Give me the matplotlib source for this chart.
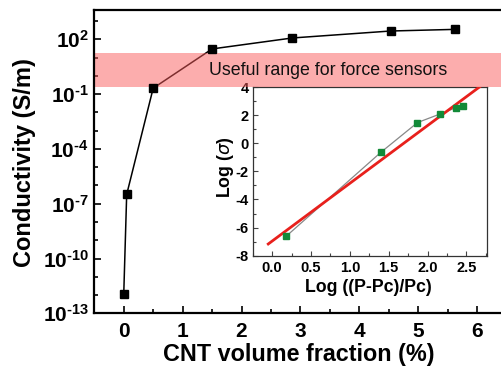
import matplotlib
matplotlib.use("Agg")
import matplotlib.pyplot as plt
import numpy as np
from matplotlib.ticker import FixedLocator, MultipleLocator, NullFormatter

plt.rcParams['font.family'] = ['Liberation Sans', 'DejaVu Sans']
plt.rcParams['mathtext.fontset'] = 'custom'
plt.rcParams['mathtext.rm'] = 'Liberation Sans:bold'
plt.rcParams['mathtext.bf'] = 'Liberation Sans:bold'

# Main data
cnt_fraction = [0.0, 0.05, 0.5, 1.5, 2.86, 4.53, 5.63]
conductivity = [1.1e-12, 3.2e-7, 0.21, 29.5, 117, 282, 347]
band_low, band_high = 0.25, 18.0
band_text = "Useful range for force sensors"
y_tick_exps = [-13, -10, -7, -4, -1, 2]
x_ticks = [0, 1, 2, 3, 4, 5, 6]

# Inset data
log_p = [0.18, 1.40, 1.87, 2.16, 2.36, 2.45]
log_sigma = [-6.62, -0.64, 1.47, 2.08, 2.52, 2.62]
fit_slope, fit_intercept = 4.11, -6.96
fit_x_range = [-0.05, 2.68]
inset_xticks = [0.0, 0.5, 1.0, 1.5, 2.0, 2.5]
inset_yticks = [-8, -6, -4, -2, 0, 2, 4]


def exp_label(e):
    s = str(abs(e))
    if e < 0:
        return r'$\mathbf{10^{\text{-}%s}}$' % s
    return r'$\mathbf{10^{%s}}$' % s


fig = plt.figure(figsize=(5.01, 3.76), dpi=100)
ax = fig.add_axes([0.1882, 0.1667, 0.823, 0.8067])
ax.set_zorder(2)
ax.patch.set_visible(False)

ax.set_yscale('log')
ax.plot(cnt_fraction, conductivity, color='black', lw=1.1, zorder=1)
ax.axhspan(band_low, band_high, color='#fa5c5c', alpha=0.5, lw=0, zorder=2)
ax.plot(cnt_fraction, conductivity, ls='none', marker='s', ms=6.2,
        color='black', zorder=3)
ax.text(1.45, 1.9, band_text, fontsize=12.8, va='center', ha='left',
        color='#111111', zorder=4)

ax.set_xlim(-0.5, 6.5)
ax.set_ylim(1e-13, 10 ** 3.6)
ax.yaxis.set_major_locator(FixedLocator([10.0 ** e for e in y_tick_exps]))
ax.set_yticklabels([exp_label(e) for e in y_tick_exps])
ax.yaxis.set_minor_locator(FixedLocator([10.0 ** e for e in range(-13, 4)]))
ax.yaxis.set_minor_formatter(NullFormatter())
ax.set_xticks(x_ticks)
ax.set_xticklabels([str(t) for t in x_ticks])
ax.xaxis.set_minor_locator(MultipleLocator(0.5))
for lab in ax.get_xticklabels():
    lab.set_fontweight('bold')
ax.tick_params(which='both', direction='in', top=False, right=False,
               width=1.2, labelsize=15)
ax.tick_params(which='major', length=5)
ax.tick_params(which='minor', length=3)
ax.tick_params(axis='y', pad=4)
ax.tick_params(axis='x', pad=6)
for s in ['left', 'bottom', 'top']:
    ax.spines[s].set_linewidth(1.6)
ax.spines['right'].set_visible(False)

fig.text(25 / 501, 1 - 163 / 376, 'Conductivity (S/m)', rotation=90,
         ha='center', va='center', fontsize=17, fontweight='bold')
fig.text(299 / 501, 1 - 355 / 376, 'CNT volume fraction (%)',
         ha='center', va='center', fontsize=16.8, fontweight='bold')

# Inset
ins = fig.add_axes([0.5044, 0.3199, 0.467, 0.4487])
ins.set_zorder(1)
ins.plot(log_p, log_sigma, color='#888888', lw=0.9, zorder=2)
fx = np.array(fit_x_range)
ins.plot(fx, fit_slope * fx + fit_intercept, color='#e8201c', lw=2.0, zorder=3)
ins.plot(log_p, log_sigma, ls='none', marker='s', ms=4.6, color='#128a38',
         zorder=4)
ins.set_xlim(-0.25, 2.76)
ins.set_ylim(-8, 4)
ins.set_xticks(inset_xticks)
ins.set_xticklabels(['%.1f' % t for t in inset_xticks])
ins.set_yticks(inset_yticks)
ins.set_yticklabels([str(t).replace('\u2212', '-') for t in inset_yticks])
ins.xaxis.set_minor_locator(MultipleLocator(0.25))
ins.yaxis.set_minor_locator(MultipleLocator(1))
for lab in ins.get_xticklabels() + ins.get_yticklabels():
    lab.set_fontweight('bold')
ins.tick_params(which='both', direction='in', top=False, right=False,
                labelsize=10.5, width=0.8, color='#444444')
ins.tick_params(which='major', length=3.5)
ins.tick_params(which='minor', length=2)
ins.tick_params(axis='y', pad=3)
ins.tick_params(axis='x', pad=4)
for s in ins.spines.values():
    s.set_linewidth(0.9)
    s.set_color('#333333')

fig.text(225 / 501, 1 - 167 / 376, r'Log ($\sigma$)', rotation=90,
         ha='center', va='center', fontsize=12.8, fontweight='bold')
fig.text(368 / 501, 1 - 287 / 376, 'Log ((P-Pc)/Pc)',
         ha='center', va='center', fontsize=12.8, fontweight='bold')

fig.savefig('out.png', dpi=100)
